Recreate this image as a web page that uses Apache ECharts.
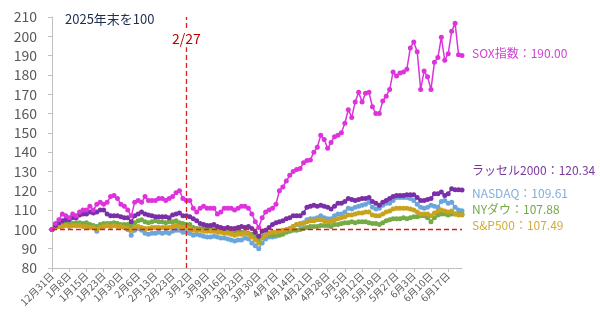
<!DOCTYPE html>
<html>
<head>
<meta charset="utf-8">
<script src="https://cdn.jsdelivr.net/npm/echarts@6/dist/echarts.min.js"></script>
<style>
  html, body { margin: 0; padding: 0; background: #fff; }
  #chart { width: 600px; height: 319px; }
</style>
</head>
<body>
<div id="chart"></div>
<script>
// 営業日（2025年末=100）
const dates = [
  '12月31日','1月2日','1月5日','1月6日','1月7日','1月8日','1月9日','1月12日','1月13日','1月14日',
  '1月15日','1月16日','1月20日','1月21日','1月22日','1月23日','1月26日','1月27日','1月28日','1月29日',
  '1月30日','2月2日','2月3日','2月4日','2月5日','2月6日','2月9日','2月10日','2月11日','2月12日',
  '2月13日','2月17日','2月18日','2月19日','2月20日','2月23日','2月24日','2月25日','2月26日','2月27日',
  '3月2日','3月3日','3月4日','3月5日','3月6日','3月9日','3月10日','3月11日','3月12日','3月13日',
  '3月16日','3月17日','3月18日','3月19日','3月20日','3月23日','3月24日','3月25日','3月26日','3月27日',
  '3月30日','3月31日','4月1日','4月2日','4月6日','4月7日','4月8日','4月9日','4月10日','4月13日',
  '4月14日','4月15日','4月16日','4月17日','4月20日','4月21日','4月22日','4月23日','4月24日','4月27日',
  '4月28日','4月29日','4月30日','5月1日','5月4日','5月5日','5月6日','5月7日','5月8日','5月11日',
  '5月12日','5月13日','5月14日','5月15日','5月18日','5月19日','5月20日','5月21日','5月22日','5月26日',
  '5月27日','5月28日','5月29日','6月1日','6月2日','6月3日','6月4日','6月5日','6月8日','6月9日',
  '6月10日','6月11日','6月12日','6月15日','6月16日','6月17日','6月18日','6月22日','6月23日','6月24日'
];

const sox = [
  100,103,105,108,107,106,108,107,109,110, 110,112,110,113,114,113,114,117,117.5,116,
  113,112,110,107,114,115,114,117,115,115, 115,116,116,115,116,117,119,120,116,115,
  115,111,109,111,112,111,111,111,108,109, 111,111,111,110,111,112,112,111,108,104,
  101,106,109,110,111,113,120,122,125,128, 130,131,131.5,134.5,135.7,136,140,142.5,148.7,146.6,
  142,145,148,148.7,150,155,162,158,166,171, 166,170.5,171,163.5,160,160,166.5,169,172.5,181.5,
  179.5,181,181.5,183,194,197,192,172.5,182,179, 172.5,186.5,189,199.5,187.6,191,202.6,206.7,190.5,190.00
];

const russell = [
  100,102,103.5,104.5,105,105,106,106,107.5,108, 108,109,108.5,109,110,110,108,107,107,107,
  106.5,106,106,104,107,108,109,108,107.5,107, 106.5,106.5,106.5,106.5,106,107.5,108,108.5,107,107,
  106.5,105.5,104.5,103,102.5,102,102,102.5,101.5,101, 100.5,101,100.5,100.5,101,101.5,101,101.5,100.5,98.5,
  96.5,99,99.5,101,102.5,103.5,104,104.5,105.5,106, 107,107,107,108.5,111.5,112,112.5,112,112.5,112,
  111.5,110.5,112,113.5,113.5,114.5,116,115.5,115,115.5, 116,116,116.5,114.5,113.5,112.5,114,115,116,117,
  117.5,117.5,117.5,118,118,118,116.5,115,115,115.5, 116,118.5,118.5,119.3,117.5,118.5,121,120.5,120.5,120.34
];

const nasdaq = [
  100,101,101.5,102,102.5,102,102.5,102,102.5,102.5, 102,101.5,101.5,99,101,101.5,102,102,102.5,102,
  101.5,101,100,97,99.5,100.5,99.5,98,97.5,98, 98,98.5,98,98.5,98,99,99.5,99.5,98.5,98.5,
  98,97,97.5,97,96.5,96,96,96.5,96,95.5, 95.5,95,94.5,94,94.5,94.5,95.5,95,93,91.5,
  90,93,95,96,96,96.5,97.5,98.5,99,100.5, 101.5,102.5,102.5,103.5,105,105.5,105.5,106,107,106,
  105.5,105.5,107,108,108,109,111,110.5,111.5,112, 112.5,113,114,111.5,110.5,111,112.5,113.5,113.5,115,
  116.5,116.5,116.5,116.5,116,115,113,111.5,111,111.5, 112.5,112,111.5,114.5,115,113.5,114,111.5,110,109.61
];

const dow = [
  100,101.5,102,102.5,103,102.5,103,103.5,103.5,103, 103.5,102.5,102,101.5,102.5,103,103,103,103.5,103,
  102.5,102.5,102.5,101.5,103.5,104.5,105,104,103.5,104, 104.5,104,104,103.5,104,104,104.5,103.5,103,102.5,
  102.5,101,100.5,100.5,100.5,100,100.5,100.5,99.5,99, 98.5,99,98.5,98.5,99,98.5,98.5,98,97.5,96.5,
  95,96.5,97,97,97,97.5,97,97.5,98.5,99, 99.5,99.5,100,100.5,101,101.5,101.5,101.5,102,102,
  102,101.5,102.5,102.5,103,103.5,103.5,104,103.5,104, 104,104,103.5,103,103,102.5,103.5,104.5,105,105.5,
  105.5,105.5,106,105.5,106,106.5,106.5,107,107,106, 104,106,107.5,108,108,107.5,108,108,108,107.88
];

const sp500 = [
  100,101,101.5,101.5,102,101.5,102,102,102,101.5, 101.5,101,101,100,101,101.5,102,101.5,102,101.5,
  101.5,101,100.5,99.5,101,101.5,101,100.5,100.5,101, 101,101,101,101,101,101.5,102,101.5,101,101,
  100.5,99.5,99.5,99.5,99,99,99,99,98.5,98.5, 98,98,97.5,97,97.5,97.5,98,97.5,96,94.5,
  93,95.5,97,98,98.5,98.5,99,99.5,100,100.5, 101.5,102.5,103,103,104,104.5,104.5,105,105,104.5,
  104,104,105,105.5,106,106.5,107.5,107.5,108,108.5, 108.5,109,109,107.5,107,107,108,109,109.5,110.5,
  111,111,111,111,110.5,110,109,108,108,108, 107,108.5,109.5,110,109.5,109,109.5,108,107.5,107.49
];

const yTicks = { min: 80, max: 210, step: 10 };
const baseLine = 100;
const eventDate = '2月27日';
const eventLabel = '2/27';
const eventLabelValue = 199;

const chart = echarts.init(document.getElementById('chart'));

const fontJP = '"Noto Sans CJK JP", "Noto Sans", sans-serif';

// 系列の設定（名前, データ, 色, 右側ラベル位置）
const seriesDefs = [
  { name: 'NASDAQ', data: nasdaq, color: '#6aa6da', labelY: 195 },
  { name: 'NYダウ', data: dow, color: '#75ab45', labelY: 211 },
  { name: 'S&P500', data: sp500, color: '#c9a21e', labelY: 227 },
  { name: 'ラッセル2000', data: russell, color: '#7a2fa8', labelY: 172 },
  { name: 'SOX指数', data: sox, color: '#dd33dd', labelY: 55 }
];

const labelColors = {
  'NASDAQ': '#7fb0dc',
  'NYダウ': '#77a84a',
  'S&P500': '#d2ad3a',
  'ラッセル2000': '#7a3a9c',
  'SOX指数': '#d440d4'
};

const series = seriesDefs.map(d => ({
  name: d.name,
  type: 'line',
  data: d.data,
  symbol: 'circle',
  symbolSize: 5,
  showSymbol: true,
  showAllSymbol: true,
  lineStyle: { width: 1.5, color: d.color },
  itemStyle: { color: d.color },
  emphasis: { disabled: true },
  animation: false
}));

// 基準線(100)と2/27の縦線
series[0].markLine = {
  silent: true,
  symbol: ['none', 'none'],
  lineStyle: { color: '#dd1c1c', type: [5, 3], width: 1.3 },
  label: { show: false },
  data: [
    { yAxis: baseLine },
    { xAxis: eventDate }
  ],
  animation: false
};
series[0].markPoint = {
  silent: true,
  symbol: 'rect',
  symbolSize: [32, 18],
  itemStyle: { color: '#fff' },
  label: {
    show: true,
    formatter: eventLabel,
    color: '#c00000',
    fontSize: 14,
    fontFamily: fontJP
  },
  data: [{ coord: [eventDate, eventLabelValue] }],
  animation: false
};

const endTexts = seriesDefs.map(d => ({
  type: 'text',
  left: 472,
  top: d.labelY - 8,
  style: {
    text: d.name + '：' + d.data[d.data.length - 1].toFixed(2),
    fill: labelColors[d.name],
    font: '12px ' + fontJP
  }
}));

chart.setOption({
  animation: false,
  grid: { left: 52, right: 138, top: 17, bottom: 51 },
  title: {
    text: '2025年末を100',
    left: 60,
    top: 8,
    textStyle: { color: '#1f2d4f', fontSize: 13, fontWeight: 'normal', fontFamily: fontJP }
  },
  xAxis: {
    type: 'category',
    data: dates,
    boundaryGap: false,
    axisLine: { lineStyle: { color: '#bfbfbf' } },
    axisTick: { show: true, interval: 4, length: 4, lineStyle: { color: '#bfbfbf' } },
    axisLabel: {
      interval: 4,
      rotate: 45,
      fontSize: 10,
      color: '#595959',
      fontFamily: fontJP,
      margin: 6
    },
    splitLine: { show: false }
  },
  yAxis: {
    type: 'value',
    min: yTicks.min,
    max: yTicks.max,
    interval: yTicks.step,
    axisLine: { show: true, lineStyle: { color: '#bfbfbf' } },
    axisTick: { show: true, length: 4, lineStyle: { color: '#bfbfbf' } },
    axisLabel: {
      fontSize: 14,
      fontFamily: fontJP,
      margin: 15,
      color: v => (v === baseLine ? '#c00000' : '#595959')
    },
    splitLine: { show: false }
  },
  graphic: endTexts,
  series: series
});
</script>
</body>
</html>
